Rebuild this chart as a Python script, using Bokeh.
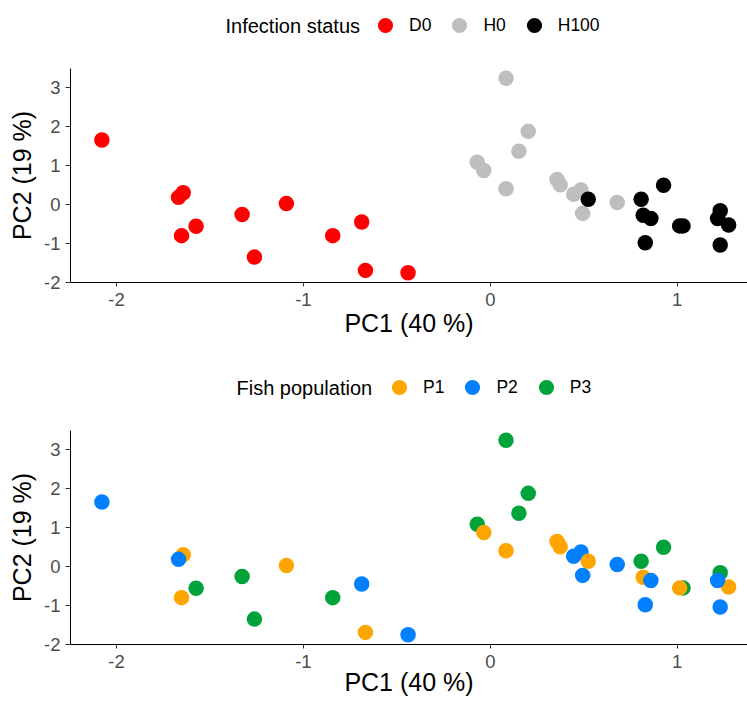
from bokeh.plotting import figure
from bokeh.models import (FixedTicker, Legend, LegendItem, Label, ColumnDataSource, Range1d)
from bokeh.layouts import column
from bokeh.transform import factor_cmap
from bokeh.embed import file_html
from bokeh.resources import INLINE

# ---------------- data ----------------
pc1 = [-2.078, -1.643, -1.668, -1.652, -1.574, -1.328, -1.262, -1.091, -0.843, -0.688, -0.668, -0.440,
       0.084, 0.203, 0.153, -0.070, -0.035, 0.084, 0.357, 0.374, 0.485, 0.446, 0.494, 0.679,
       0.524, 0.807, 0.927, 0.818, 0.859, 0.829, 1.031, 1.013, 1.230, 1.275, 1.216, 1.230]
pc2 = [1.65, 0.30, 0.18, -0.80, -0.56, -0.26, -1.35, 0.02, -0.80, -0.45, -1.69, -1.75,
       3.23, 1.87, 1.36, 1.08, 0.87, 0.40, 0.64, 0.50, 0.37, 0.26, -0.23, 0.05,
       0.13, 0.13, 0.49, -0.28, -0.36, -0.98, -0.55, -0.55, -0.16, -0.53, -0.36, -1.04]
status = ["D0"] * 12 + ["H0"] * 12 + ["H100"] * 12
population = ["P2", "P1", "P2", "P1", "P3", "P3", "P3", "P1", "P3", "P2", "P1", "P2",
              "P3", "P3", "P3", "P3", "P1", "P1", "P1", "P1", "P2", "P2", "P2", "P2",
              "P1", "P3", "P3", "P1", "P2", "P2", "P3", "P1", "P3", "P1", "P2", "P2"]

status_levels = ["D0", "H0", "H100"]
status_colors = ["#FF0000", "#BEBEBE", "#000000"]
pop_levels = ["P1", "P2", "P3"]
pop_colors = ["#FFA500", "#0080FF", "#00A33A"]

x_ticks = [-2, -1, 0, 1]
y_ticks = [-2, -1, 0, 1, 2, 3]
x_title = "PC1 (40 %)"
y_title = "PC2 (19 %)"
status_title = "Infection status"
pop_title = "Fish population"

FONT = "Liberation Sans"
W = 747
src = ColumnDataSource(dict(pc1=pc1, pc2=pc2, status=status, population=population))


def make_legend_fig(height, field, levels, colors, title, title_x, legend_x):
    # a strip holding only the legend; its ranges keep the data points out of view
    f = figure(width=W, height=height, output_backend="svg", toolbar_location=None,
               x_range=Range1d(100, 101), y_range=Range1d(100, 101),
               x_axis_location=None, y_axis_location=None, min_border=0)
    f.outline_line_color = None
    f.xgrid.visible = False
    f.ygrid.visible = False
    rr = f.scatter("pc1", "pc2", source=src, size=15.5, line_color=None,
                   fill_color=factor_cmap(field, palette=colors, factors=levels))
    values = src.data[field]
    items = [LegendItem(label=lv, renderers=[rr], index=values.index(lv)) for lv in levels]
    leg = Legend(items=items, orientation="horizontal", location=(legend_x, 0),
                 padding=0, margin=0, spacing=9,
                 glyph_width=38, glyph_height=38, label_standoff=5, label_width=0,
                 border_line_color=None, background_fill_alpha=0,
                 label_text_font=FONT, label_text_font_size="17.5px", label_text_color="black")
    f.add_layout(leg)
    f.add_layout(Label(x=title_x, y=19, x_units="screen", y_units="screen", text=title,
                       text_align="left", text_baseline="middle", text_font=FONT,
                       text_font_size="20px", text_color="black"))
    return f


def make_panel(height, frame_top, frame_h, field, levels, colors, xlabel_standoff):
    p = figure(width=W, height=height, output_backend="svg", toolbar_location=None,
               x_range=Range1d(-2.246, 1.376), y_range=Range1d(-2.0, 3.48),
               min_border_left=70, min_border_right=0, min_border_top=frame_top,
               min_border_bottom=height - frame_top - frame_h)
    p.outline_line_color = None
    p.xgrid.visible = False
    p.ygrid.visible = False

    p.scatter("pc1", "pc2", source=src, size=15.5, line_color=None,
              fill_color=factor_cmap(field, palette=colors, factors=levels))

    for ax, ticks, title in ((p.xaxis[0], x_ticks, x_title), (p.yaxis[0], y_ticks, y_title)):
        ax.ticker = FixedTicker(ticks=ticks)
        ax.major_label_overrides = {t: str(t) for t in ticks}
        ax.axis_line_color = "black"
        ax.axis_line_width = 1
        ax.major_tick_line_color = "#333333"
        ax.major_tick_in = 0
        ax.minor_tick_line_color = None
        ax.major_label_text_font = FONT
        ax.major_label_text_font_size = "18.5px"
        ax.major_label_text_color = "#4D4D4D"
        ax.axis_label = title
        ax.axis_label_text_font = FONT
        ax.axis_label_text_font_size = "25px"
        ax.axis_label_text_font_style = "normal"
        ax.axis_label_text_color = "black"
    p.xaxis[0].major_tick_out = 4
    p.xaxis[0].major_label_standoff = 6
    p.xaxis[0].axis_label_standoff = xlabel_standoff
    p.yaxis[0].major_tick_out = 5
    p.yaxis[0].major_label_standoff = 5
    p.yaxis[0].axis_label_standoff = 5
    return p


# the column aligns every frame at x = 70, so legend offsets are measured from there
leg1 = make_legend_fig(44, "status", status_levels, status_colors, status_title, 155, 296)
p1 = make_panel(325, 24, 214, "status", status_levels, status_colors, 0)
leg2 = make_legend_fig(37, "population", pop_levels, pop_colors, pop_title, 166, 310)
p2 = make_panel(295, 24, 214, "population", pop_levels, pop_colors, -3)

layout = column(leg1, p1, leg2, p2, spacing=0)
open("out.html", "w").write(file_html(layout, INLINE))
